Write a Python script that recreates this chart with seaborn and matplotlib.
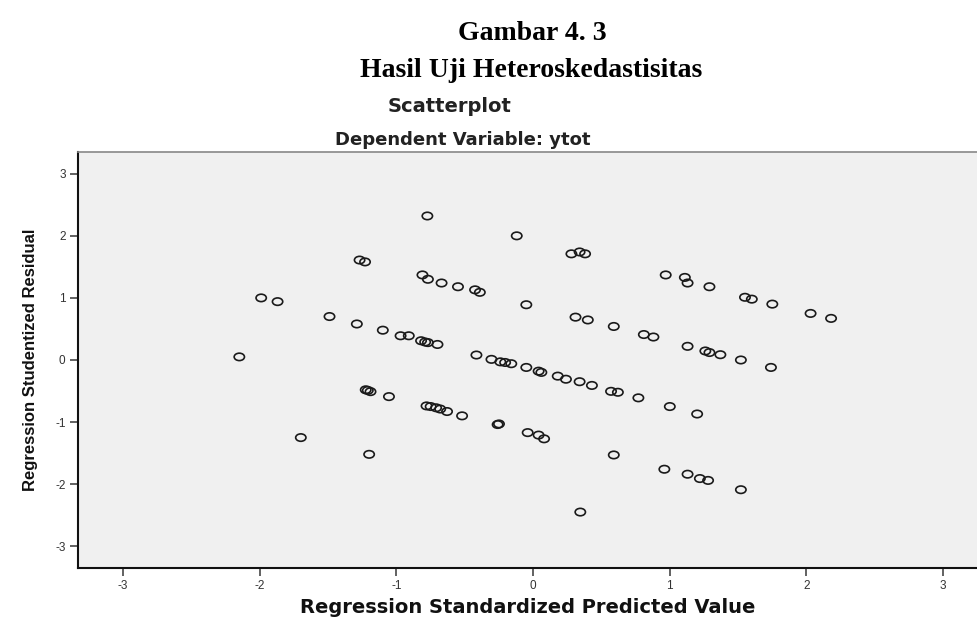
import numpy as np
import pandas as pd
import matplotlib
matplotlib.use("Agg")
import matplotlib.pyplot as plt
from matplotlib.path import Path
import seaborn as sns

# values
pred = [-2.15, -1.99, -1.87, -1.49, -1.29, -1.27, -1.23, -1.10, -0.97, -0.91,
        -0.82, -0.79, -0.77, -0.70, -0.81, -0.77, -0.67, -0.55, -0.425, -0.39,
        -0.774, -0.12, 0.28, 0.34, 0.38, -0.05, 0.31, 0.40, 0.59, 0.81,
        0.88, -0.415, -0.305, -0.24, -0.205, -0.16, -0.05, 0.04, 0.06, 0.18,
        0.24, 0.34, 0.43, 0.57, 0.62, 0.77, 1.00, 1.20, -1.225, -1.21,
        -1.19, -1.055, -0.78, -0.75, -0.71, -0.68, -0.63, -0.52, -0.26, -0.25,
        -0.04, 0.04, 0.08, -1.70, -1.20, 0.59, 0.96, 1.13, 1.22, 1.28,
        1.52, 0.345, 0.97, 1.11, 1.13, 1.29, 1.55, 1.60, 1.75, 2.03,
        2.18, 1.13, 1.26, 1.29, 1.37, 1.52, 1.74]
resid = [0.05, 1.00, 0.94, 0.70, 0.58, 1.61, 1.58, 0.48, 0.39, 0.39,
         0.31, 0.29, 0.28, 0.25, 1.37, 1.30, 1.24, 1.18, 1.13, 1.09,
         2.32, 2.00, 1.71, 1.74, 1.71, 0.89, 0.69, 0.645, 0.54, 0.41,
         0.37, 0.08, 0.01, -0.03, -0.04, -0.06, -0.12, -0.18, -0.20, -0.26,
         -0.31, -0.35, -0.41, -0.505, -0.52, -0.61, -0.75, -0.87, -0.48, -0.49,
         -0.51, -0.59, -0.74, -0.75, -0.77, -0.79, -0.83, -0.90, -1.04, -1.03,
         -1.17, -1.21, -1.27, -1.25, -1.52, -1.53, -1.76, -1.84, -1.91, -1.94,
         -2.09, -2.45, 1.37, 1.33, 1.24, 1.18, 1.01, 0.98, 0.90, 0.75,
         0.67, 0.22, 0.145, 0.12, 0.085, 0.0, -0.12]
ticks = [-3, -2, -1, 0, 1, 2, 3]

df = pd.DataFrame({"pred": pred, "resid": resid})

sns.set_style("white")
plt.rcParams["font.family"] = ["Liberation Sans", "DejaVu Sans"]
plt.rcParams["axes.unicode_minus"] = False

fig = plt.figure(figsize=(9.78, 6.18), dpi=100)
ax = fig.add_axes([0.0798, 0.081, 0.9202, 0.673])
ax.set_facecolor("#f0f0f0")

# slightly flattened open circle, like the SPSS marker
circ = Path.unit_circle()
ell = Path(circ.vertices * np.array([1.0, 0.72]), circ.codes)

sns.scatterplot(data=df, x="pred", y="resid", marker=ell, s=55,
                facecolor="none", edgecolor="#1a1a1a", linewidth=1.2, ax=ax)

ax.set_xlim(-3.33, 3.255)
ax.set_ylim(-3.35, 3.35)
ax.set_xticks(ticks)
ax.set_yticks(ticks)
ax.tick_params(bottom=True, left=True, direction="out", length=6, width=1.3,
               color="#555555", labelsize=8.5, labelcolor="#333333", pad=3)

for s in ["left", "bottom"]:
    ax.spines[s].set_color("#111111")
    ax.spines[s].set_linewidth(1.5)
ax.spines["top"].set_color("#888888")
ax.spines["top"].set_linewidth(1.2)
ax.spines["right"].set_visible(False)

ax.set_xlabel("Regression Standardized Predicted Value", family=["DejaVu Sans"],
              fontweight="bold", fontsize=14, color="#111111", labelpad=4)
ax.set_ylabel("Regression Studentized Residual",
              family=["Liberation Sans Narrow", "Liberation Sans"],
              fontweight="bold", fontsize=12, color="#111111", labelpad=12)

fig.text(0.544, 0.935, "Gambar 4. 3", family=["Liberation Serif"],
         fontweight="bold", fontsize=20, color="black", ha="center", va="baseline")
fig.text(0.543, 0.875, "Hasil Uji Heteroskedastisitas", family=["Liberation Serif"],
         fontweight="bold", fontsize=20, color="black", ha="center", va="baseline")
fig.text(0.46, 0.827, "Scatterplot", family=["DejaVu Sans"], fontweight="bold",
         fontsize=14, color="#222222", ha="center", va="center")
fig.text(0.473, 0.773, "Dependent Variable: ytot", family=["DejaVu Sans"],
         fontweight="bold", fontsize=13, color="#222222", ha="center", va="center")

fig.savefig("out.png", dpi=100)
